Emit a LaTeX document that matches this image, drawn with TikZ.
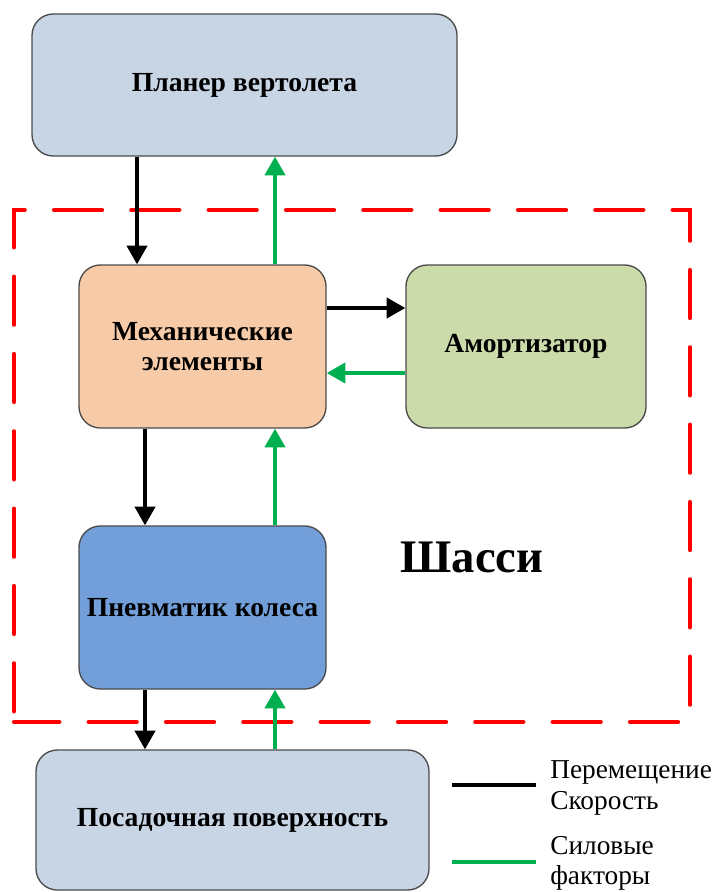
\documentclass[tikz,border=0pt]{standalone}
\usepackage{fontspec}
\setmainfont{Liberation Serif}
\usetikzlibrary{arrows.meta}
\definecolor{cplan}{HTML}{C8D5E5}
\definecolor{cmech}{HTML}{F8CBA8}
\definecolor{camort}{HTML}{CCDBAA}
\definecolor{cpnev}{HTML}{729FDA}
\definecolor{cgreen}{HTML}{00B050}
\definecolor{cborder}{HTML}{4A4A4A}
\tikzset{
  blockbox/.style={draw=cborder, line width=1pt, rounded corners=16pt, inner sep=0pt,
    align=center, font=\fontsize{20.7}{23}\selectfont\bfseries},
  blk/.style={draw=black, line width=3pt, -{Triangle[width=15pt,length=14pt]}},
  grn/.style={draw=cgreen, line width=3pt, -{Triangle[width=15pt,length=14pt]}},
  legtext/.style={anchor=west, inner sep=0pt, font=\fontsize{20.5}{22}\selectfont},
}
\begin{document}
\begin{tikzpicture}[x=0.75pt,y=-0.75pt]
\useasboundingbox (0,0) rectangle (716,892);
% dashed frame
\draw[red, line width=3.2pt, dash pattern=on 36pt off 22pt, dash phase=-8pt, line cap=round] (14,722) -- (14,210) -- (690,210) -- (690,722) -- cycle;
% blocks
\node[blockbox, fill=cplan, minimum width=318.75pt, minimum height=106.5pt] (plan) at (244.5,85) {Планер вертолета};
\node[blockbox, fill=cmech, minimum width=185.25pt, minimum height=122.25pt] (mech) at (202.5,346.5) {Механические\\элементы};
\node[blockbox, fill=camort, minimum width=180pt, minimum height=122.25pt] (amort) at (526,346.5) {Амортизатор};
\node[blockbox, fill=cpnev, minimum width=185.25pt, minimum height=122.25pt] (pnev) at (202.5,607.5) {Пневматик колеса};
\node[blockbox, fill=cplan, minimum width=294.75pt, minimum height=105pt] (posad) at (232.5,820) {Посадочная поверхность};
\node[font=\fontsize{35}{38}\selectfont\bfseries, inner sep=0pt] (shassi) at (472,557) {Шасси};
% arrows
\draw[blk] (plan.south -| 137,0) -- (mech.north -| 137,0);
\draw[grn] (mech.north -| 275,0) -- (plan.south -| 275,0);
\draw[blk] (mech.east |- 0,308) -- (amort.west |- 0,308);
\draw[grn] (amort.west |- 0,373) -- (mech.east |- 0,373);
\draw[blk] (mech.south -| 145,0) -- (pnev.north -| 145,0);
\draw[grn] (pnev.north -| 275,0) -- (mech.south -| 275,0);
\draw[blk] (pnev.south -| 145,0) -- (posad.north -| 145,0);
\draw[grn] (posad.north -| 275,0) -- (pnev.south -| 275,0);
% legend
\coordinate (lb1) at (452,785);
\coordinate (lb2) at (536,785);
\coordinate (lg1) at (452,862);
\coordinate (lg2) at (536,862);
\draw[black, line width=3.5pt] (lb1) -- (lb2);
\draw[cgreen, line width=3.5pt] (lg1) -- (lg2);
\node[legtext] (t1) at (550,772) {Перемещение};
\node[legtext] (t2) at (550,803) {Скорость};
\node[legtext] (t3) at (550,846) {Силовые};
\node[legtext] (t4) at (550,878) {факторы};
\end{tikzpicture}
\end{document}
